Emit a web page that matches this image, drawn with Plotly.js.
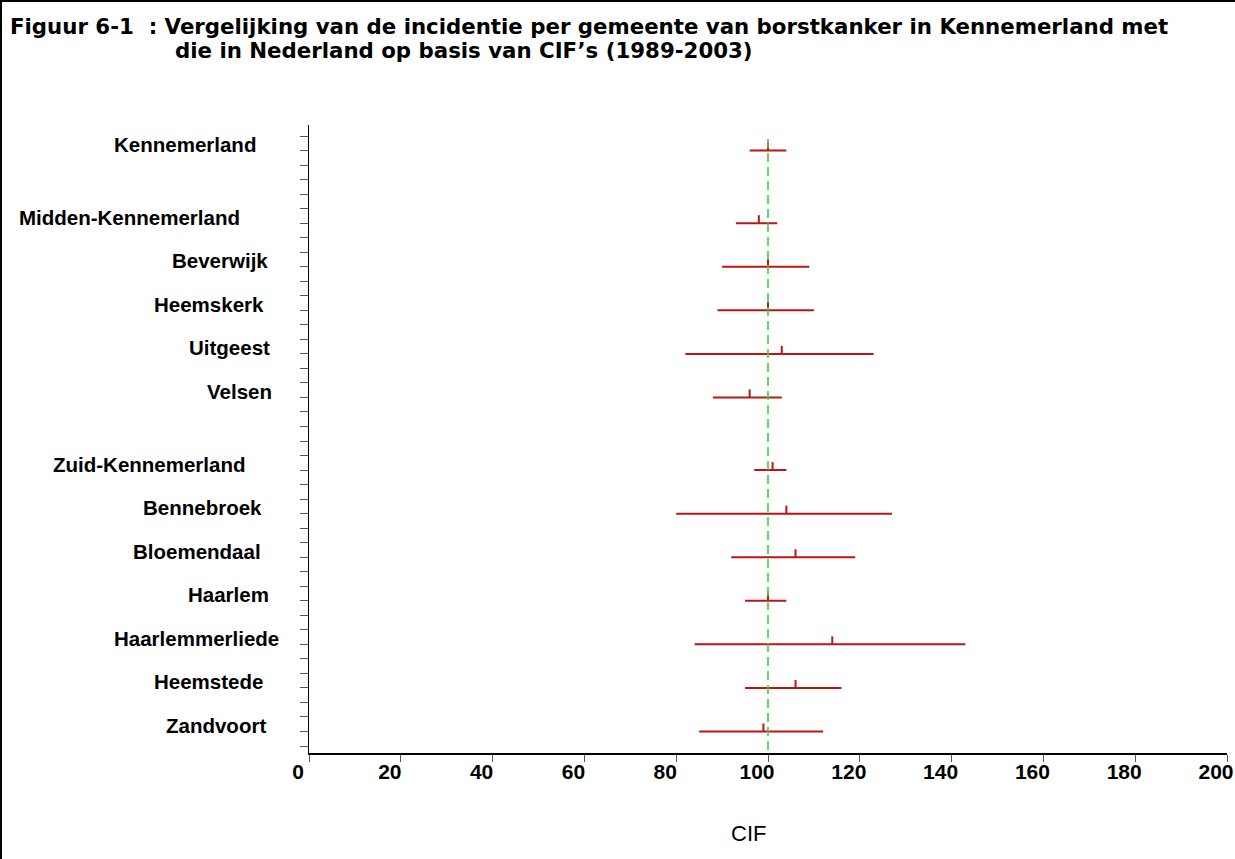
<!DOCTYPE html>
<html>
<head>
<meta charset="utf-8">
<script src="https://cdn.plot.ly/plotly-3.0.1.min.js"></script>
<style>
  html, body { margin: 0; padding: 0; background: #fff; }
  #wrap { position: relative; width: 1235px; height: 859px; }
  #chart { width: 1235px; height: 859px; }
  #frame { position: absolute; left: 0; top: 0; width: 1235px; height: 859px;
           border-left: 2px solid #000; border-top: 2px solid #000; box-sizing: border-box;
           pointer-events: none; }
</style>
</head>
<body>
<div id="wrap"><div id="chart"></div><div id="frame"></div></div>
<script>
// ---- data ----
const categories = ['Kennemerland', 'Midden-Kennemerland', 'Beverwijk', 'Heemskerk', 'Uitgeest', 'Velsen',
                    'Zuid-Kennemerland', 'Bennebroek', 'Bloemendaal', 'Haarlem', 'Haarlemmerliede', 'Heemstede', 'Zandvoort'];
const rowPos = [41, 36, 33, 30, 27, 24, 19, 16, 13, 10, 7, 4, 1];
const cif   = [100, 98, 100, 100, 103, 96, 101, 104, 106, 100, 114, 106, 99];
const lower = [96, 93, 90, 89, 82, 88, 97, 80, 92, 95, 84, 95, 85];
const upper = [104, 102, 109, 110, 123, 103, 104, 127, 119, 104, 143, 116, 112];
const referenceCIF = 100;
const xTickVals = [0, 20, 40, 60, 80, 100, 120, 140, 160, 180, 200];

// ---- styles ----
const labelRightPx = [258, 242, 270, 266, 272, 274, 248, 264, 263, 271, 281, 265, 268];
const red = '#bb1515';
const W = 1235, H = 859;
const M = {l: 309, r: 8, t: 125, b: 106};
const plotW = W - M.l - M.r, plotH = H - M.t - M.b;
const pxX = px => (px - M.l) / plotW;
const pxY = py => (H - M.b - py) / plotH;

const trace = {
  type: 'scatter',
  mode: 'markers',
  x: cif,
  y: rowPos,
  marker: {size: 2, color: 'rgba(0,0,0,0)'},
  error_x: {type: 'data', symmetric: false,
            array: upper.map((u, i) => u - cif[i]),
            arrayminus: lower.map((l, i) => cif[i] - l),
            color: red, thickness: 2, width: 0},
  error_y: {type: 'data', symmetric: false,
            array: cif.map(() => 0.55), arrayminus: cif.map(() => 0),
            color: red, thickness: 2, width: 0},
  hoverinfo: 'skip',
  showlegend: false
};

const labelFont = {family: 'Liberation Sans, Arial, sans-serif', size: 20.5, color: '#000', weight: 'bold'};
const titleFont = {family: 'DejaVu Sans, Verdana, sans-serif', size: 21.3, color: '#000', weight: 'bold'};

const annotations = categories.map((c, i) => ({
  text: c, xref: 'paper', yref: 'y', x: 0, y: rowPos[i],
  xanchor: 'right', yanchor: 'middle', xshift: labelRightPx[i] - M.l, yshift: 6,
  showarrow: false, font: labelFont
}));
annotations.push({
  text: 'Figuur 6-1  : Vergelijking van de incidentie per gemeente van borstkanker in Kennemerland met',
  xref: 'paper', yref: 'paper', x: pxX(8), y: pxY(26), xanchor: 'left', yanchor: 'middle', showarrow: false,
  font: titleFont
});
annotations.push({
  text: 'die in Nederland op basis van CIF’s (1989-2003)',
  xref: 'paper', yref: 'paper', x: pxX(173), y: pxY(51), xanchor: 'left', yanchor: 'middle', showarrow: false,
  font: titleFont
});
annotations.push({
  text: 'CIF', xref: 'paper', yref: 'paper', x: pxX(748), y: pxY(833), xanchor: 'center', yanchor: 'middle',
  showarrow: false,
  font: {family: 'Liberation Sans, Arial, sans-serif', size: 22, color: '#000'}
});

const layout = {
  width: W, height: H,
  margin: M,
  paper_bgcolor: '#fff', plot_bgcolor: '#fff',
  showlegend: false,
  xaxis: {
    range: [0, 200], tickvals: xTickVals, ticktext: xTickVals.map(String),
    showgrid: false, zeroline: false, showline: true, linecolor: '#000', linewidth: 1.5,
    ticks: 'outside', ticklen: 7, tickcolor: '#555', tickwidth: 1,
    ticklabelshift: -11, ticklabelstandoff: -8,
    tickfont: {family: 'Liberation Sans, Arial, sans-serif', size: 21, color: '#000', weight: 'bold'}
  },
  yaxis: {
    range: [-0.48, 42.76], tick0: 0, dtick: 1, showticklabels: false,
    showgrid: false, zeroline: false, showline: true, linecolor: '#000', linewidth: 1.5,
    ticks: 'outside', ticklen: 8, tickcolor: '#555', tickwidth: 1
  },
  shapes: [{
    type: 'line', xref: 'x', yref: 'paper', x0: referenceCIF, x1: referenceCIF,
    y0: pxY(750), y1: pxY(137),
    line: {color: '#3fcf3f', width: 1.6, dash: '9px,5px'}
  }],
  annotations: annotations
};

Plotly.newPlot('chart', [trace], layout, {displayModeBar: false, staticPlot: true});
</script>
</body>
</html>
